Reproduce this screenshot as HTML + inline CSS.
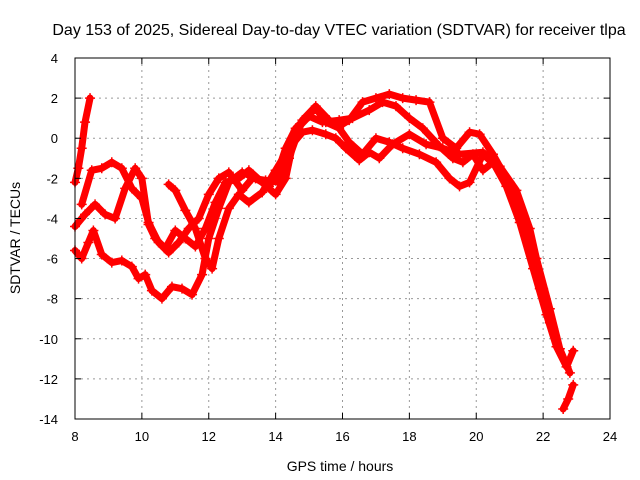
<!DOCTYPE html>
<html><head><meta charset="utf-8"><style>
body{margin:0;background:#fff}
svg{display:block;font-family:"Liberation Sans",sans-serif}
</style></head><body>
<svg id="chart" width="640" height="480">
<text x="339" y="35" text-anchor="middle" font-size="16">Day 153 of 2025, Sidereal Day-to-day VTEC variation (SDTVAR) for receiver tlpa</text>
<g id="grid"></g>
<g id="series"></g>
<rect x="75" y="58" width="535" height="361" fill="none" stroke="#000" stroke-width="1"/>
<g id="axes"></g>
<text x="340" y="471" text-anchor="middle" font-size="14">GPS time / hours</text>
<text transform="translate(20,238) rotate(-90)" text-anchor="middle" font-size="14">SDTVAR / TECUs</text>
</svg>
<script>
const xTicks=[8,10,12,14,16,18,20,22,24];
const yTicks=[4,2,0,-2,-4,-6,-8,-10,-12,-14];
const sA_x=[8.0,8.1,8.2,8.3,8.45];
const sA_y=[-2.2,-1.5,-0.5,0.8,2.0];
const sB_x=[8.0,8.2,8.4,8.55,8.8,9.1,9.4,9.7,9.9,10.1,10.3,10.6,10.9,11.2,11.5,11.8,12.0,12.3,12.6,13.0,13.4,13.8,14.1,14.3,14.6,14.9,15.2,15.5,15.9,16.2,16.6,17.0,17.4,17.8,18.3,18.8,19.2,19.5,19.8,20.2,20.6,21.0,21.4,21.8,22.2,22.5,22.8];
const sB_y=[-5.6,-6.0,-5.2,-4.6,-5.8,-6.2,-6.1,-6.4,-7.0,-6.8,-7.6,-8.0,-7.4,-7.5,-7.8,-6.8,-5.0,-3.5,-2.2,-1.7,-2.0,-2.4,-1.5,-0.5,0.5,1.0,1.5,0.8,0.5,-0.2,-0.8,0.0,-0.2,-0.5,-0.8,-1.2,-2.0,-2.4,-2.2,-0.8,-1.4,-2.2,-4.0,-6.0,-8.5,-10.5,-11.7];
const sC_x=[8.0,8.3,8.6,8.9,9.2,9.5,9.8,10.0,10.2,10.4,10.7,11.0,11.3,11.6,11.9,12.2,12.5,12.9,13.2,13.6,14.0,14.3,14.6,15.0,15.4,15.9,16.3,16.8,17.2,17.6,18.0,18.4,18.9,19.3,19.6,19.9,20.2,20.5,20.9,21.3,21.7,22.1,22.4,22.7,22.9];
const sC_y=[-4.4,-3.8,-3.3,-3.8,-4.0,-2.5,-1.5,-2.0,-4.3,-5.0,-5.5,-4.6,-5.0,-5.4,-4.5,-3.2,-2.2,-2.0,-1.6,-2.2,-2.8,-2.0,0.4,1.1,0.8,0.9,1.0,1.4,1.8,1.6,1.0,0.5,-0.4,-1.0,-1.2,-0.8,-1.6,-1.2,-2.4,-4.2,-6.5,-8.8,-10.4,-11.4,-10.6];
const sD_x=[8.2,8.5,8.8,9.1,9.4,9.7,10.0,10.2,10.5,10.8,11.1,11.4,11.7,12.0,12.3,12.6,13.0,13.3,13.7,14.1,14.4,14.8,15.2,15.6,15.9,16.2,16.6,17.0,17.4,17.8,18.2,18.6,19.0,19.4,19.8,20.1,20.5,20.9,21.3,21.6,21.9,22.2];
const sD_y=[-3.3,-1.6,-1.5,-1.2,-1.5,-2.5,-3.0,-4.2,-5.2,-5.7,-5.2,-4.5,-4.0,-2.8,-2.0,-1.7,-2.6,-2.0,-2.1,-2.2,-1.0,0.9,1.6,0.9,0.6,0.9,1.8,2.0,2.2,2.0,1.9,1.8,0.0,-0.5,0.3,0.2,-0.8,-2.0,-3.8,-5.5,-7.5,-9.2];
const sE_x=[10.8,11.0,11.3,11.6,11.9,12.1,12.3,12.6,12.9,13.2,13.6,14.0,14.4,14.8,15.1,15.5,15.8,16.1,16.5,16.8,17.1,17.5,18.0,18.5,19.0,19.5,20.2,20.7,21.2,21.6,22.0,22.3];
const sE_y=[-2.3,-2.6,-3.6,-4.5,-6.0,-6.5,-5.0,-3.5,-2.8,-3.2,-2.7,-1.6,-0.5,0.3,0.4,0.2,0.0,-0.5,-1.1,-0.7,-1.0,-0.3,0.2,-0.3,-0.5,-0.8,-0.7,-1.4,-2.6,-4.5,-7.5,-9.5];
const sF_x=[22.6,22.75,22.9];
const sF_y=[-13.5,-13.0,-12.3];
const seriesList=[[sA_x,sA_y,'series-a'],[sB_x,sB_y,'series-b'],[sC_x,sC_y,'series-c'],[sD_x,sD_y,'series-d'],[sE_x,sE_y,'series-e'],[sF_x,sF_y,'series-f']];
const NS='http://www.w3.org/2000/svg';
const X=v=>75+(v-8)/16*535;
const Y=v=>58+(4-v)/18*361;
const grid=document.getElementById('grid'),axes=document.getElementById('axes'),ser=document.getElementById('series');
function mk(tag,at,parent){const e=document.createElementNS(NS,tag);for(const k in at)e.setAttribute(k,at[k]);parent.appendChild(e);return e;}
xTicks.forEach(t=>{
  const x=X(t);
  if(t>8&&t<24){const g=mk('line',{x1:x,y1:58,x2:x,y2:419,stroke:'#999','stroke-dasharray':'2,4'},grid);
  
  }
  mk('line',{x1:x,y1:419,x2:x,y2:413,stroke:'#000'},axes);
  mk('line',{x1:x,y1:58,x2:x,y2:64,stroke:'#000'},axes);
  const l=mk('text',{x:x,y:441,'text-anchor':'middle','font-size':13},axes);
  
  
  l.textContent=t;
});
yTicks.forEach(t=>{
  const y=Y(t);
  if(t<4&&t>-14){const g=mk('line',{x1:75,y1:y,x2:610,y2:y,stroke:'#999','stroke-dasharray':'2,4'},grid);
  
  }
  mk('line',{x1:75,y1:y,x2:81,y2:y,stroke:'#000'},axes);
  mk('line',{x1:610,y1:y,x2:604,y2:y,stroke:'#000'},axes);
  const l=mk('text',{x:58,y:y+5,'text-anchor':'end','font-size':13},axes);
  
  
  l.textContent=t;
});
seriesList.forEach(([xs,ys,name])=>{
  const g=mk('g',{},ser);
  
  
  const pts=xs.map((x,i)=>X(x)+','+Y(ys[i])).join(' ');
  mk('polyline',{points:pts,fill:'none',stroke:'#f00','stroke-width':7,'stroke-linejoin':'round','stroke-linecap':'round'},g);
  xs.forEach((x,i)=>{
    const px=X(x),py=Y(ys[i]);
    const p=mk('path',{d:`M${px-5},${py}h10M${px},${py-5}v10`,stroke:'#f00','stroke-width':1.5},g);
    
    
  });
});
</script>
</body></html>
